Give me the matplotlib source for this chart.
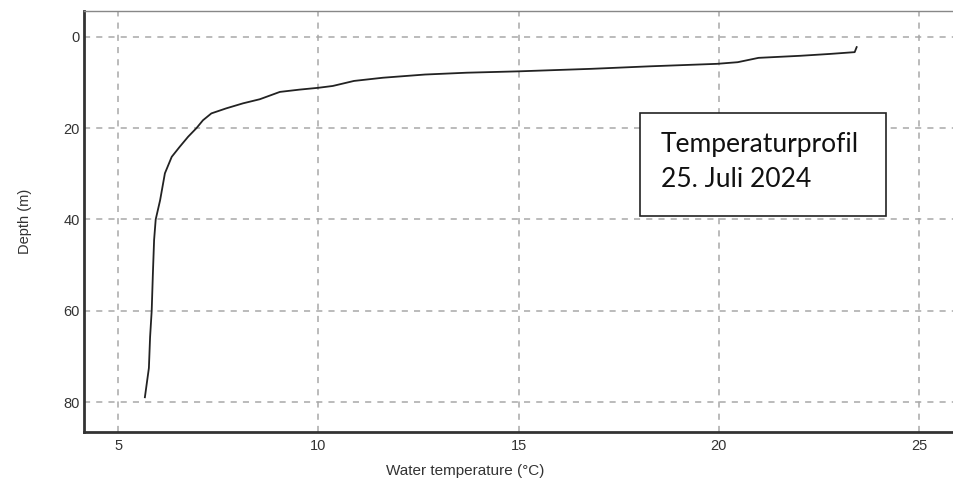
import numpy as np
import matplotlib
matplotlib.use('Agg')
import matplotlib.pyplot as plt

# temperature profile
temp = [5.67, 5.77, 5.80, 5.84, 5.87, 5.90, 5.94, 6.05, 6.17, 6.34, 6.54, 6.75,
        6.96, 7.12, 7.33, 7.70, 8.12, 8.54, 9.04, 9.53, 10.0, 10.36, 10.89,
        11.61, 12.66, 13.70, 15.00, 16.82, 18.28, 19.95, 20.47, 20.99, 22.03,
        22.76, 23.39, 23.44]
depth = [78.9, 72.5, 65.7, 60.0, 51.8, 44.5, 40.0, 35.8, 29.9, 26.3, 24.1, 21.9,
         20.0, 18.3, 16.8, 15.7, 14.6, 13.7, 12.1, 11.6, 11.2, 10.8, 9.7,
         9.0, 8.3, 7.9, 7.6, 7.05, 6.5, 5.96, 5.6, 4.65, 4.2,
         3.8, 3.4, 2.3]

xticks = [5, 10, 15, 20, 25]
yticks = [0, 20, 40, 60, 80]

plt.rcParams['font.family'] = ['Liberation Sans', 'DejaVu Sans']

fig = plt.figure(figsize=(9.54, 4.87), dpi=100)
ax = fig.add_axes([84/954, 1-432/487, 870/954, 421/487])

ax.plot(temp, depth, color='#222222', lw=1.3)

ax.set_xlim(4.15, 25.87)
ax.set_ylim(86.5, -5.6)
ax.set_xticks(xticks)
ax.set_yticks(yticks)
ax.grid(True, color='#a8a8a8', ls=(0, (4, 4)), lw=1.1)
ax.tick_params(length=0, labelsize=10.5, colors='#333333')
ax.tick_params(axis='y', pad=3)
ax.tick_params(axis='x', pad=5)

for s in ['left', 'bottom']:
    ax.spines[s].set_color('#333333')
    ax.spines[s].set_linewidth(2)
ax.spines['top'].set_color('#888888')
ax.spines['top'].set_linewidth(1)
ax.spines['right'].set_visible(False)

ax.set_xlabel('Water temperature (°C)', fontsize=11, color='#333333')
ax.xaxis.set_label_coords((465-84)/870, -0.076)
ax.set_ylabel('Depth (m)', fontsize=10.5, color='#333333')
ax.yaxis.set_label_coords(-0.06, 0.5)

# annotation box
box = plt.Rectangle((640/954, 1-216/487), 246/954, 103/487, transform=fig.transFigure,
                    facecolor='white', edgecolor='#222222', lw=1.2, zorder=4)
fig.patches.append(box)
fig.text(661/954, 1-152/487, 'Temperaturprofil', fontsize=19, family='Lato',
         color='#111111', va='baseline', zorder=5)
fig.text(661/954, 1-187/487, '25. Juli 2024', fontsize=19, family='Lato',
         color='#111111', va='baseline', zorder=5)

fig.savefig('out.png', dpi=100)
